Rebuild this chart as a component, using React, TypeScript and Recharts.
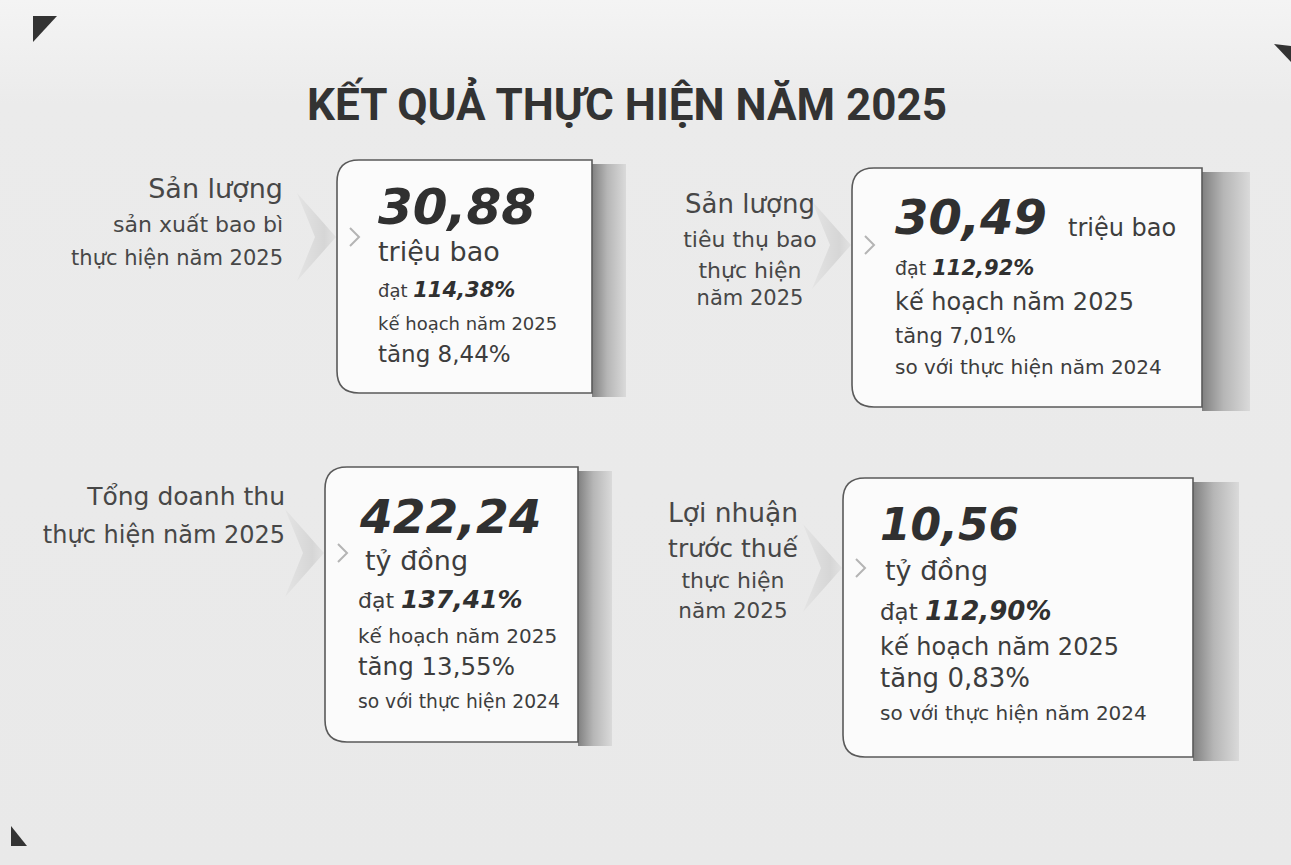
import React from "react";
import { ScatterChart, Scatter, XAxis, YAxis } from "recharts";

const chartTitle = "KẾT QUẢ THỰC HIỆN NĂM 2025";
const gridCol = [0, 1, 0, 1];
const gridRow = [0, 0, 1, 1];
const labelLines = [
  ["Sản lượng", "sản xuất bao bì", "thực hiện năm 2025"],
  ["Sản lượng", "tiêu thụ bao", "thực hiện", "năm 2025"],
  ["Tổng doanh thu", "thực hiện năm 2025"],
  ["Lợi nhuận", "trước thuế", "thực hiện", "năm 2025"],
];
const values = [30.88, 30.49, 422.24, 10.56];
const units = ["triệu bao", "triệu bao", "tỷ đồng", "tỷ đồng"];
const planPct = [114.38, 112.92, 137.41, 112.9];
const planText = "kế hoạch năm 2025";
const growthPct = [8.44, 7.01, 13.55, 0.83];
const compareNotes = ["", "so với thực hiện năm 2024", "so với thực hiện 2024", "so với thực hiện năm 2024"];

const kpis = values.map((v, i) => ({
  idx: i,
  col: gridCol[i],
  row: gridRow[i],
  value: v,
  unit: units[i],
  plan: planPct[i],
  growth: growthPct[i],
  note: compareNotes[i],
  label: labelLines[i],
}));

// ---- styling / layout (per card tweaks, the scan is a bit skewed) ----
const SANS = "'DejaVu Sans', 'Noto Sans', sans-serif";
const TEXT = "#3d3d3d";
const DARK = "#303030";

const CARD_STYLE = [
  {
    dx: 0, dy: 0, w: 255, h: 233, strip: 34, tx: 41, unitX: 41, arrowY: 77,
    y: { num: 64, unit: 101, dat: 137, plan: 170, grow: 202, note: 0 },
    size: { num: 50, unit: 27, dat: 18, pct: 21, plan: 18, grow: 23, note: 0 },
    label: { anchor: "end", x: -54, ys: [38, 72, 105], sizes: [27, 22, 21] },
  },
  {
    dx: 0, dy: 8, w: 350, h: 239, strip: 48, tx: 43, unitX: 216, arrowY: 77,
    y: { num: 66, unit: 68, dat: 107, plan: 142, grow: 175, note: 206 },
    size: { num: 48, unit: 24, dat: 19, pct: 21, plan: 24, grow: 21, note: 20 },
    label: { anchor: "middle", x: -102, ys: [45, 79, 110, 137], sizes: [26, 22, 22, 21] },
  },
  {
    dx: -12, dy: 0, w: 253, h: 275, strip: 34, tx: 33, unitX: 40, arrowY: 86,
    y: { num: 66, unit: 103, dat: 141, plan: 176, grow: 208, note: 241 },
    size: { num: 47, unit: 27, dat: 22, pct: 25, plan: 20, grow: 24.5, note: 18.7 },
    label: { anchor: "end", x: -40, ys: [38, 76], sizes: [25, 24] },
  },
  {
    dx: -9, dy: 11, w: 350, h: 279, strip: 46, tx: 37, unitX: 42, arrowY: 90,
    y: { num: 62, unit: 102, dat: 142, plan: 177, grow: 209, note: 242 },
    size: { num: 44, unit: 27, dat: 23, pct: 26, plan: 24, grow: 26, note: 20 },
    label: { anchor: "middle", x: -110, ys: [44, 79, 110, 140], sizes: [26.5, 25, 22, 21.5] },
  },
];

const fmt = (v: number) => v.toFixed(2).replace(".", ",");

function KpiCard(props: any) {
  const { cx, cy, payload } = props;
  if (cx == null || cy == null || !payload) return null;
  const i = payload.idx;
  const s = CARD_STYLE[i];
  const x = cx + s.dx;
  const y = cy + s.dy;
  const r = 22;
  const path = `M${x + r},${y} H${x + s.w} V${y + s.h} H${x + r} Q${x},${y + s.h} ${x},${y + s.h - r} V${y + r} Q${x},${y} ${x + r},${y} Z`;
  const ay = y + s.arrowY;
  const tx = x + s.tx;
  const lx = x + s.label.x;

  return (
    <g>
      {/* faint arrow wedge pointing into the card */}
      <polygon
        points={`${x - 1},${ay} ${x - 40},${ay - 44} ${x - 22},${ay} ${x - 40},${ay + 44}`}
        fill="url(#arrowGrad)"
      />
      {/* left label */}
      {payload.label.map((line: string, k: number) => (
        <text
          key={k}
          x={lx}
          y={y + s.label.ys[k]}
          textAnchor={s.label.anchor}
          fontFamily={SANS}
          fontSize={s.label.sizes[k]}
          fill="#474747"
        >
          {line}
        </text>
      ))}
      {/* side strip */}
      <rect x={x + s.w} y={y + 4} width={s.strip} height={s.h} fill="url(#stripGrad)" />
      {/* card */}
      <path d={path} fill="#fbfbfb" stroke="#5a5a5a" strokeWidth={1.6} />
      <polyline
        points={`${x + 13},${ay - 9} ${x + 22},${ay} ${x + 13},${ay + 9}`}
        fill="none"
        stroke="#b4b4b4"
        strokeWidth={2}
      />
      {/* big number */}
      <text
        x={tx + (i === 2 ? 2 : 0)}
        y={y + s.y.num}
        fontFamily={SANS}
        fontWeight={700}
        fontStyle="italic"
        fontSize={s.size.num}
        fill={DARK}
      >
        {fmt(payload.value)}
      </text>
      <text x={x + s.unitX} y={y + s.y.unit} fontFamily={SANS} fontSize={s.size.unit} fill={TEXT}>
        {payload.unit}
      </text>
      <text x={tx} y={y + s.y.dat} fontFamily={SANS} fill={TEXT}>
        <tspan fontSize={s.size.dat}>đạt </tspan>
        <tspan fontSize={s.size.pct} fontWeight={700} fontStyle="italic" fill={DARK}>
          {fmt(payload.plan)}%
        </tspan>
      </text>
      <text x={tx} y={y + s.y.plan} fontFamily={SANS} fontSize={s.size.plan} fill={TEXT}>
        {planText}
      </text>
      <text x={tx} y={y + s.y.grow} fontFamily={SANS} fontSize={s.size.grow} fill={TEXT}>
        tăng {fmt(payload.growth)}%
      </text>
      {payload.note && (
        <text x={tx} y={y + s.y.note} fontFamily={SANS} fontSize={s.size.note} fill={TEXT}>
          {payload.note}
        </text>
      )}
    </g>
  );
}

export default function App() {
  const W = 1291;
  const H = 865;
  return (
    <div
      style={{
        position: "absolute",
        left: 0,
        top: 0,
        width: W,
        height: H,
        background: "linear-gradient(180deg, #f4f4f4 0%, #ebebeb 12%, #e9e9e9 100%)",
        overflow: "hidden",
      }}
    >
      <svg width={W} height={H} style={{ position: "absolute", left: 0, top: 0 }}>
        <polygon points="33,16 57,16 33,42" fill="#333" />
        <polygon points="11,826 11,846 27,846" fill="#333" />
        <polygon points="1274,44 1291,46 1291,62" fill="#333" />
        <text
          x={307}
          y={120}
          fontFamily="Roboto, 'Noto Sans', sans-serif"
          fontWeight={700}
          fontSize={44}
          fill="#333"
        >
          {chartTitle}
        </text>
      </svg>
      <div style={{ position: "absolute", left: 0, top: 0 }}>
        <ScatterChart width={W} height={H} margin={{ top: 160, right: 439, bottom: 398, left: 337 }}>
          <defs>
            <linearGradient id="stripGrad" x1="0" y1="0" x2="1" y2="0">
              <stop offset="0%" stopColor="#808080" />
              <stop offset="45%" stopColor="#b6b6b6" />
              <stop offset="100%" stopColor="#dadada" />
            </linearGradient>
            <linearGradient id="arrowGrad" x1="0" y1="0" x2="1" y2="0">
              <stop offset="0%" stopColor="#e4e4e4" />
              <stop offset="70%" stopColor="#d6d6d6" />
              <stop offset="100%" stopColor="#e2e2e2" />
            </linearGradient>
          </defs>
          <XAxis type="number" dataKey="col" domain={[0, 1]} hide />
          <YAxis type="number" dataKey="row" domain={[0, 1]} reversed hide />
          <Scatter data={kpis} shape={KpiCard} isAnimationActive={false} />
        </ScatterChart>
      </div>
    </div>
  );
}
